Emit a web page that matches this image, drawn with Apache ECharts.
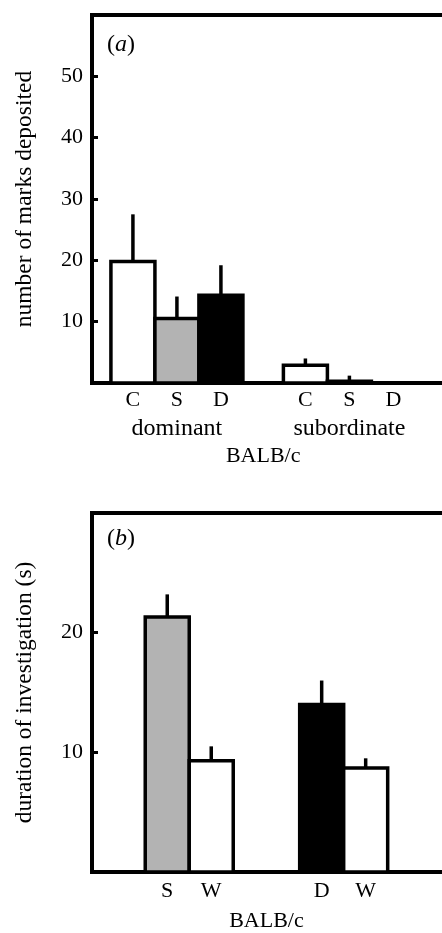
<!DOCTYPE html>
<html><head><meta charset="utf-8">
<script src="https://cdn.jsdelivr.net/npm/echarts@6/dist/echarts.min.js"></script>
<style>html,body{margin:0;padding:0;background:#fff}#c{width:442px;height:933px}</style>
</head><body><div id="c"></div>
<script>
// ---------- Panel (a) data ----------
const aCategories = ['C', 'S', 'D'];
const aGroups = ['dominant', 'subordinate'];
const aDominantMean = [19.8, 10.5, 14.3];
const aDominantSE = [7.7, 3.6, 4.9];
const aSubordinateMean = [2.9, 0.3, 0];
const aSubordinateSE = [1.1, 0.9, 0];
const aYTicks = [10, 20, 30, 40, 50];
const aYTitle = 'number of marks deposited';
const aXTitle = 'BALB/c';
const aPanel = 'a';

// ---------- Panel (b) data ----------
const bGroup1Cats = ['S', 'W'];
const bGroup1Mean = [21.3, 9.3];
const bGroup1SE = [1.9, 1.2];
const bGroup2Cats = ['D', 'W'];
const bGroup2Mean = [14.0, 8.7];
const bGroup2SE = [2.0, 0.8];
const bYTicks = [10, 20];
const bYTitle = 'duration of investigation (s)';
const bXTitle = 'BALB/c';
const bPanel = 'b';

// ---------- styling / layout ----------
const FF = 'Liberation Serif, Times New Roman, serif';
const fillFor = { C: '#ffffff', S: '#b3b3b3', D: '#000000', W: '#ffffff' };
const aGroupStart = [0.93, 4.85];
const bGroupStart = [1.71, 5.22];

function buildBars(groupStarts, cats, means, ses) {
  const items = [], labels = [];
  groupStarts.forEach((s, g) => {
    cats[g].forEach((c, i) => {
      items.push([s + i, means[g][i], means[g][i] + ses[g][i]]);
      labels.push(c);
    });
  });
  return { items, labels };
}

const aBars = buildBars(aGroupStart, [aCategories, aCategories],
  [aDominantMean, aSubordinateMean], [aDominantSE, aSubordinateSE]);
const bBars = buildBars(bGroupStart, [bGroup1Cats, bGroup2Cats],
  [bGroup1Mean, bGroup2Mean], [bGroup1SE, bGroup2SE]);

function barRenderer(labels, labelOffset) {
  return function (params, api) {
    const x = api.value(0), y = api.value(1), top = api.value(2);
    const b0 = api.coord([x - 0.5, 0]);
    const b1 = api.coord([x + 0.5, y]);
    const pc = api.coord([x, y]);
    const pe = api.coord([x, top]);
    const lab = labels[params.dataIndex];
    const children = [];
    if (top > y) {
      children.push({ type: 'line', shape: { x1: pc[0], y1: pc[1], x2: pe[0], y2: pe[1] },
        style: { stroke: '#000', lineWidth: 3.5 } });
    }
    children.push({ type: 'rect',
      shape: { x: b0[0], y: b1[1], width: b1[0] - b0[0], height: b0[1] - b1[1] },
      style: { fill: fillFor[lab], stroke: '#000', lineWidth: 3.5 } });
    children.push({ type: 'text', x: pc[0], y: b0[1] + labelOffset,
      style: { text: lab, fontFamily: FF, fontSize: 22, fill: '#000', align: 'center', verticalAlign: 'middle' } });
    return { type: 'group', children };
  };
}

function textRenderer(texts, offsets, sizes) {
  return function (params, api) {
    const p = api.coord([api.value(0), 0]);
    const i = params.dataIndex;
    return { type: 'text', x: p[0], y: p[1] + offsets[i],
      style: { text: texts[i], fontFamily: FF, fontSize: sizes[i], fill: '#000', align: 'center', verticalAlign: 'middle' } };
  };
}

const aGroupCenters = aGroupStart.map(s => s + (aCategories.length - 1) / 2);
const aTextData = [[aGroupCenters[0]], [aGroupCenters[1]], [(aGroupCenters[0] + aGroupCenters[1]) / 2]];
const aTexts = [aGroups[0], aGroups[1], aXTitle];
const bGroupCenters = [bGroupStart[0] + 0.5, bGroupStart[1] + 0.5];
const bTextData = [[(bGroupCenters[0] + bGroupCenters[1]) / 2]];
const bTexts = [bXTitle];

function yAxis(gridIndex, max, ticks, title) {
  return {
    gridIndex, type: 'value', min: 0, max, interval: 10,
    axisLine: { show: true, lineStyle: { color: '#000', width: 4 } },
    axisTick: { show: true, inside: true, length: 6, lineStyle: { color: '#000', width: 3 } },
    axisLabel: { formatter: v => ticks.includes(v) ? String(v) : '', color: '#000', fontFamily: FF, fontSize: 22, margin: 9 },
    splitLine: { show: false },
    name: title, nameLocation: 'middle', nameGap: 55,
    nameTextStyle: { color: '#000', fontFamily: FF, fontSize: 23.5 }
  };
}
function xAxis(gridIndex) {
  return { gridIndex, type: 'value', min: 0, max: 10,
    axisLine: { show: false }, axisTick: { show: false }, axisLabel: { show: false }, splitLine: { show: false } };
}

function panelLabel(letter, y) {
  return { type: 'text', x: 107, y, style: { text: '({i|' + letter + '})', fontFamily: FF, fontSize: 24, fill: '#000', verticalAlign: 'middle',
    rich: { i: { fontStyle: 'italic', fontFamily: FF, fontSize: 24 } } } };
}

const chart = echarts.init(document.getElementById('c'), null, { renderer: 'canvas' });
chart.setOption({
  animation: false,
  backgroundColor: '#fff',
  grid: [
    { left: 92, top: 15, width: 440, height: 368, show: true, borderColor: '#000', borderWidth: 4, containLabel: false, outerBoundsMode: 'none' },
    { left: 92, top: 513, width: 440, height: 359, show: true, borderColor: '#000', borderWidth: 4, containLabel: false, outerBoundsMode: 'none' }
  ],
  xAxis: [xAxis(0), xAxis(1)],
  yAxis: [yAxis(0, 60, aYTicks, aYTitle), yAxis(1, 30, bYTicks, bYTitle)],
  series: [
    { type: 'custom', xAxisIndex: 0, yAxisIndex: 0, clip: false, data: aBars.items, renderItem: barRenderer(aBars.labels, 17.5) },
    { type: 'custom', xAxisIndex: 0, yAxisIndex: 0, clip: false, data: aTextData, renderItem: textRenderer(aTexts, [46, 46, 73], [24, 24, 22]) },
    { type: 'custom', xAxisIndex: 1, yAxisIndex: 1, clip: false, data: bBars.items, renderItem: barRenderer(bBars.labels, 19) },
    { type: 'custom', xAxisIndex: 1, yAxisIndex: 1, clip: false, data: bTextData, renderItem: textRenderer(bTexts, [49], [22]) }
  ],
  graphic: [panelLabel(aPanel, 45), panelLabel(bPanel, 539)]
});
</script></body></html>
